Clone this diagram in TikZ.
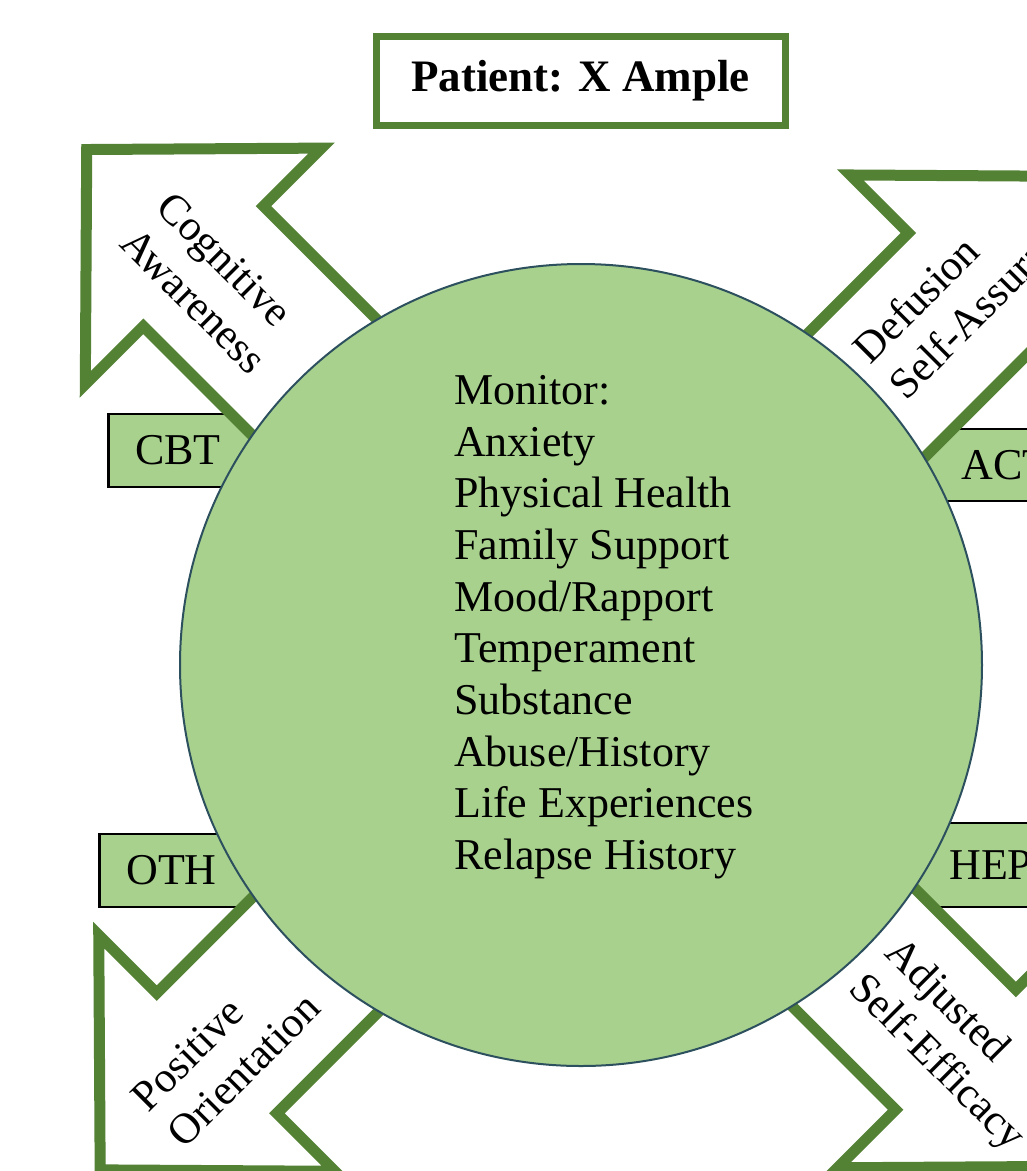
\documentclass[tikz,border=0pt]{standalone}
\usepackage{fontspec}
\setmainfont{Liberation Serif}
\definecolor{leaf}{RGB}{169,209,142}
\definecolor{moss}{RGB}{84,130,53}
\definecolor{rim}{RGB}{45,80,95}
\tikzset{
  tagbox/.style={draw=black, fill=leaf, line width=2.5pt, anchor=west, align=left,
    font=\fontsize{44}{52}\selectfont},
  blockarrow/.style={draw=moss, fill=white, line width=11pt},
  armlabel/.style={anchor=north west, align=left, inner sep=0pt,
    font=\fontsize{43}{51}\selectfont},
}

\begin{document}
\begin{tikzpicture}[x=1pt, y=-1pt]
    \useasboundingbox (0,0) rectangle (1027,1171);
    \clip (0,0) rectangle (1027,1171);
    \fill[white] (0,0) rectangle (1027,1171);
    % tags of the four therapies
    \node[tagbox, text width=150pt, inner xsep=27pt, minimum height=73pt] (cbt) at (107,450.5) {CBT};
    \node[tagbox, text width=150pt, inner xsep=27pt, minimum height=73pt] (oth) at (98,870.5) {OTH};
    \node[tagbox, text width=150pt, inner xsep=100pt, minimum height=72pt] (act) at (860,465) {ACT};
    \node[tagbox, text width=150pt, inner xsep=88pt, minimum height=84pt] (hep) at (860,865) {HEP};
    % block arrows, their tails go under the circle
    \foreach \ang/\off/\base in {135/15/549, 45/11/537, 225/-17/532, 315/7/537}
        \draw[blockarrow, shift={(581,665)}, rotate=\ang]
            (250,\off+85) -- (\base,\off+85) -- (\base,\off+167) -- (\base+165,\off)
            -- (\base,\off-167) -- (\base,\off-85) -- (250,\off-85) -- cycle;
    \node[armlabel, rotate=-45] (cogn) at (175,189) {Cognitive\\Awareness};
    \node[armlabel, rotate=45] (defu) at (849,344) {Defusion\\Self-Assurance};
    \node[armlabel, rotate=45] (posi) at (128,1093) {Positive\\Orientation};
    \node[armlabel, rotate=-45] (adju) at (905,933) {Adjusted\\Self-Efficacy};
    % the patient
    \node[draw=rim, fill=leaf, circle, line width=2pt, minimum size=802pt, inner sep=0pt] (hub) at (581,665) {};
    \node[anchor=north west, align=left, inner sep=0pt, font=\fontsize{44}{51.7}\selectfont] (watch) at (454,375)
        {Monitor:\\Anxiety\\Physical Health\\Family Support\\Mood/Rapport\\Temperament\\Substance\\Abuse/History\\Life Experiences\\Relapse History};
    \node[draw=moss, line width=7pt, minimum width=409pt, minimum height=89pt,
        font=\fontsize{45}{54}\selectfont\bfseries] (patient) at (580.5,80.5) {Patient: X Ample};
\end{tikzpicture}
\end{document}
